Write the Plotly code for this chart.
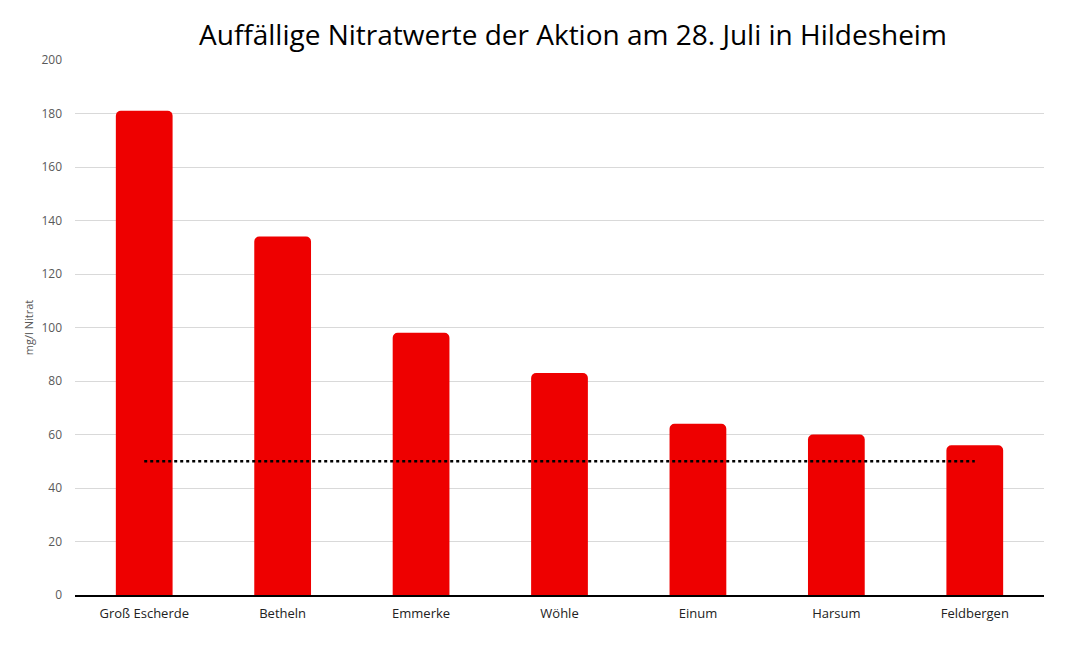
import plotly.graph_objects as go

orte = ["Groß Escherde", "Betheln", "Emmerke", "Wöhle", "Einum", "Harsum", "Feldbergen"]
nitrat = [181, 134, 98, 83, 64, 60, 56]
grenzwert = [50, 50, 50, 50, 50, 50, 50]
y_ticks = [0, 20, 40, 60, 80, 100, 120, 140, 160, 180, 200]

fig = go.Figure()
fig.add_trace(
    go.Bar(
        x=orte,
        y=nitrat,
        marker=dict(color="#EE0000", cornerradius=5, line=dict(width=0)),
        name="Nitrat",
    )
)
fig.add_trace(
    go.Scatter(
        x=orte,
        y=grenzwert,
        mode="lines",
        line=dict(color="#000000", width=2.5, dash="dot"),
        name="Grenzwert",
    )
)

# die Seite hat 8px Body-Rand, darum die Ränder etwas verschoben
fig.update_layout(
    width=1071,
    height=645,
    margin=dict(l=67, r=35, t=52, b=58),
    paper_bgcolor="white",
    plot_bgcolor="white",
    showlegend=False,
    bargap=0.59,
    font=dict(family="Open Sans", color="#595959"),
    title=dict(
        text="Auffällige Nitratwerte der Aktion am 28. Juli in Hildesheim",
        x=0.5275,
        xanchor="center",
        y=0.958,
        yanchor="middle",
        font=dict(family="Open Sans", size=28, color="#000000"),
    ),
    xaxis=dict(
        showline=True,
        linecolor="#000000",
        linewidth=1.5,
        showgrid=False,
        tickfont=dict(size=13, color="#222222"),
        ticks="",
        ticklabelstandoff=6,
        automargin=False,
    ),
    yaxis=dict(
        range=[0, 200],
        tickvals=y_ticks,
        showgrid=True,
        gridcolor="#D9D9D9",
        gridwidth=1,
        zeroline=False,
        showline=False,
        automargin=False,
        tickfont=dict(size=12, color="#595959"),
        ticklabelstandoff=12,
        title=dict(text="mg/l Nitrat", font=dict(size=11, color="#595959"), standoff=5),
    ),
)

fig.write_html("out.html")
